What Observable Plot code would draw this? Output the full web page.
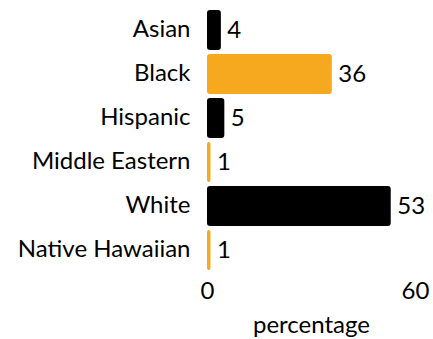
<!DOCTYPE html>
<html>
<head>
<meta charset="utf-8">
<script src="https://cdn.jsdelivr.net/npm/d3@7"></script>
<script src="https://cdn.jsdelivr.net/npm/@observablehq/plot@0.6"></script>
<style>
  html, body { margin: 0; padding: 0; background: #fff; }
</style>
</head>
<body>
<div id="chart"></div>
<script>
const categories = ["Asian", "Black", "Hispanic", "Middle Eastern", "White", "Native Hawaiian"];
const values = [4, 36, 5, 1, 53, 1];
const xTicks = [0, 60];

const data = categories.map((c, i) => ({category: c, value: values[i], idx: i}));
const BLACK = "#000000";
const ORANGE = "#f6a81e";

const chart = Plot.plot({
  width: 433,
  height: 339,
  marginLeft: 207,
  marginRight: 18,
  marginTop: 7,
  marginBottom: 67,
  style: {fontFamily: "Lato", fontSize: "24px", color: "black", background: "white"},
  x: {domain: [0, 60]},
  y: {domain: categories, paddingInner: 0.093, paddingOuter: 0.05},
  marks: [
    Plot.barX(data, {x: "value", y: "category", fill: d => d.idx % 2 ? ORANGE : BLACK, rx: 3}),
    Plot.text(data, {x: "value", y: "category", text: d => String(d.value), textAnchor: "start", dx: 6, fontSize: 24, fill: "black"}),
    Plot.axisY({tickSize: 0, tickPadding: 17, fontSize: 24, label: null, dy: -1}),
    Plot.axisX({ticks: xTicks, tickSize: 0, tickPadding: 9, fontSize: 24, label: "percentage", labelAnchor: "center", labelArrow: false, labelOffset: 60})
  ]
});
document.getElementById("chart").appendChild(chart);
</script>
</body>
</html>
